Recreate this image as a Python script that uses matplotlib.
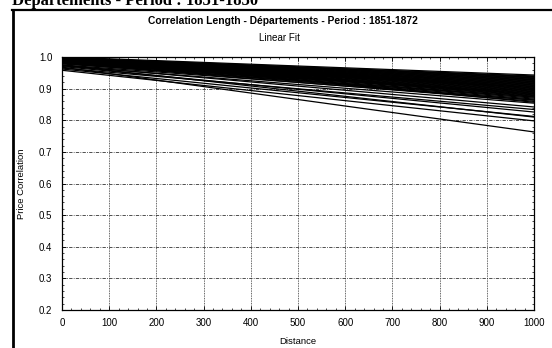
import matplotlib.pyplot as plt
from matplotlib.lines import Line2D
import numpy as np

plt.rcParams['font.family'] = ['Liberation Sans', 'DejaVu Sans']

# linear fits: correlation at distance 0 and at distance 1000
x_ends = [0, 1000]
start_vals = [1.000, 0.998, 0.997, 0.996, 0.995, 0.994, 0.993, 0.992, 0.991, 0.990,
              0.989, 0.988, 0.988, 0.987, 0.986, 0.985, 0.985, 0.984, 0.983, 0.982,
              0.999, 0.997, 0.995, 0.993, 0.991, 0.989, 0.987, 0.985, 0.983, 0.981,
              0.996, 0.994, 0.992, 0.990, 0.988, 0.986, 0.984, 0.982, 0.980, 0.998,
              0.978, 0.975, 0.972, 0.974, 0.965, 0.970, 0.962, 0.974, 0.958, 0.968]
end_vals = [0.943, 0.940, 0.938, 0.936, 0.934, 0.932, 0.930, 0.928, 0.926, 0.924,
            0.922, 0.920, 0.918, 0.916, 0.914, 0.912, 0.910, 0.908, 0.906, 0.904,
            0.902, 0.900, 0.898, 0.896, 0.894, 0.892, 0.890, 0.888, 0.886, 0.884,
            0.882, 0.880, 0.878, 0.876, 0.873, 0.870, 0.867, 0.864, 0.860, 0.857,
            0.874, 0.864, 0.854, 0.842, 0.834, 0.826, 0.812, 0.810, 0.798, 0.763]

x_ticks = [0, 100, 200, 300, 400, 500, 600, 700, 800, 900, 1000]
y_ticks = [0.2, 0.3, 0.4, 0.5, 0.6, 0.7, 0.8, 0.9, 1.0]

fig = plt.figure(figsize=(5.52, 3.48), dpi=100)
ax = fig.add_axes([62/552, 38/348, 472/552, 253/348])

for s, e in zip(start_vals, end_vals):
    ax.plot(x_ends, [s, e], color='black', lw=0.9, solid_capstyle='butt')

ax.set_xlim(0, 1000)
ax.set_ylim(0.2, 1.0)
ax.set_xticks(x_ticks)
ax.set_yticks(y_ticks)
ax.set_yticklabels([f"{v:.1f}" for v in y_ticks])
ax.tick_params(direction='in', length=3, width=0.6, labelsize=7, top=True, right=True)
ax.tick_params(axis='x', pad=6)
ax.tick_params(axis='y', pad=7)
ax.minorticks_on()
ax.tick_params(which='minor', direction='in', length=1.5, width=0.5, top=True, right=True)
ax.grid(True, axis='y', color='#333333', lw=0.6, ls=(0, (4, 1.5, 1, 1.5)))
ax.grid(True, axis='x', color='#333333', lw=0.6, ls=(0, (1, 1)))
for sp in ax.spines.values():
    sp.set_linewidth(0.9)

ax.set_xlabel("Distance", fontsize=6.8, labelpad=6)
ax.set_ylabel("Price Correlation", fontsize=6.8, labelpad=9)

fig.text(283/552, 1 - 21/348, "Correlation Length - Départements - Period : 1851-1872",
         ha='center', va='center', fontsize=7.4, fontweight='bold')
fig.text(279/552, 1 - 38/348, "Linear Fit", ha='center', va='center', fontsize=7.1)

# page text cut off above the frame
fig.text(12/552, 1 - 5/348, "Departements - Period : 1851-1850", ha='left', va='baseline',
         fontsize=12, fontweight='bold', family=['Liberation Serif', 'DejaVu Serif'])

# scanned frame lines
fig.add_artist(Line2D([12/552, 1.0], [1 - 9.5/348, 1 - 9.5/348], color='black', lw=1.6))
fig.add_artist(Line2D([13/552, 13/552], [0, 1 - 9.5/348], color='black', lw=2.0))

fig.savefig("out.png", dpi=100)
